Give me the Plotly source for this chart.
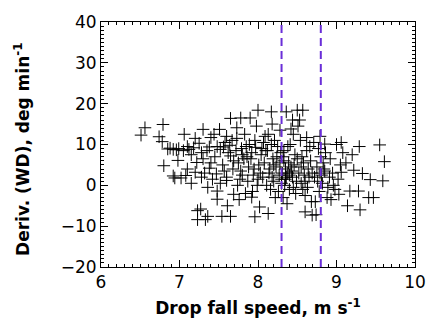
import plotly.graph_objects as go

pts = [
(6.51,12.3),(6.56,14.1),(6.74,11.9),(6.79,14.9),(6.78,10.7),(6.80,4.8),(6.85,8.9),(6.88,9.1),(6.94,1.8),
(6.92,8.8),(6.96,8.7),(6.99,9.0),(6.98,6.1),(6.92,2.3),(7.02,1.8),(7.05,8.5),(7.08,2.4),(7.10,9.5),(7.06,12.5),(7.10,4.0),
(7.12,8.8),(7.15,7.5),(7.18,9.2),(7.20,3.2),(7.22,5.6),(7.23,-6.2),(7.23,-8.4),(7.25,10.3),(7.28,2.0),(7.15,0.5),(7.28,8.0),(7.20,11.5),(7.30,6.5),(7.30,13.7),(7.27,-5.8),
(7.33,-8.4),(7.36,-7.6),(7.35,8.5),(7.38,4.2),(7.40,11.7),(7.42,1.5),(7.45,7.0),(7.32,3.0),(7.48,9.5),(7.36,-0.5),(7.44,12.5),(7.40,5.5),(7.47,2.8),(7.48,-1.4),(7.48,-3.4),(7.38,9.4),
(7.51,13.7),(7.52,8.8),(7.55,5.0),(7.58,10.5),(7.60,2.0),(7.61,-5.0),(7.54,-7.6),(7.65,-7.6),(7.65,7.2),(7.60,12.0),(7.68,4.0),(7.52,0.5),(7.64,9.8),(7.57,3.5),(7.65,16.4),(7.69,6.0),(7.69,-2.2),(7.60,1.2),(7.67,11.0),(7.56,9.4),(7.62,8.0),
(7.72,8.5),(7.73,14.1),(7.75,5.5),(7.78,16.5),(7.80,2.5),(7.85,9.5),(7.74,0.0),(7.88,4.5),(7.80,7.5),(7.84,-2.0),(7.73,11.5),(7.87,1.0),(7.90,16.5),(7.78,3.5),(7.82,6.5),(7.76,-3.5),(7.89,10.0),(7.79,9.0),(7.83,12.5),(7.86,7.0),(7.77,1.5),
(7.92,8.0),(7.95,4.0),(7.98,14.5),(8.00,1.5),(8.02,-5.3),(8.05,9.0),(7.93,-1.5),(8.08,5.5),(7.96,11.0),(8.00,18.4),(8.03,3.0),(7.92,-2.9),(7.91,6.5),(8.09,12.0),(7.99,0.0),(8.04,7.5),(7.94,2.5),(7.96,-7.7),(8.07,10.5),(8.06,2.0),(7.97,9.3),(8.01,5.0),(8.10,8.5),
(8.12,8.5),(8.15,4.0),(8.18,15.0),(8.20,1.0),(8.22,-3.0),(8.25,9.5),(8.13,12.5),(8.28,5.5),(8.16,-1.0),(8.17,18.0),(8.19,6.5),(8.27,2.5),(8.11,0.0),(8.21,11.0),(8.13,-6.9),(8.14,3.0),(8.29,8.0),(8.23,4.5),(8.17,10.0),(8.30,0.5),(8.28,13.5),(8.24,7.0),(8.18,2.0),(8.26,-1.5),(8.20,5.0),
(8.31,3.0),(8.33,6.0),(8.35,1.5),(8.38,9.5),(8.40,-1.0),(8.42,4.5),(8.45,12.5),(8.32,-3.0),(8.36,18.0),(8.44,2.0),(8.47,7.5),(8.34,0.0),(8.41,10.0),(8.48,-2.0),(8.39,5.5),(8.44,16.0),(8.43,3.5),(8.37,-4.5),(8.49,1.0),(8.33,8.5),(8.40,2.5),(8.45,-0.5),(8.35,4.0),(8.50,6.5),(8.42,13.8),(8.30,1.5),(8.38,3.0),(8.46,5.0),(8.32,7.0),(8.36,2.0),
(8.50,18.4),(8.52,3.0),(8.55,0.5),(8.58,5.5),(8.60,-2.5),(8.62,8.5),(8.65,2.0),(8.51,14.5),(8.68,-4.0),(8.54,11.0),(8.57,-1.0),(8.64,4.0),(8.56,7.0),(8.60,1.0),(8.66,9.5),(8.60,-6.5),(8.69,3.0),(8.53,16.0),(8.57,18.4),(8.62,11.7),(8.67,6.0),(8.59,2.5),(8.69,-7.3),(8.63,-0.5),(8.55,4.5),
(8.72,2.0),(8.75,4.5),(8.78,-1.5),(8.80,7.0),(8.82,0.5),(8.85,3.5),(8.71,10.5),(8.88,-3.0),(8.74,-7.2),(8.79,12.0),(8.83,5.5),(8.76,1.0),(8.86,8.0),(8.73,-4.0),(8.81,2.5),(8.89,-0.5),(8.77,9.0),(8.84,4.0),(8.85,10.1),(8.79,3.0),
(8.92,6.5),(8.95,3.0),(8.98,-1.0),(9.00,10.0),(9.02,1.5),(9.05,5.0),(8.93,-3.5),(9.06,10.5),(8.96,0.0),(9.06,3.2),(9.03,-2.2),(8.91,2.0),(9.08,8.0),
(9.14,-5.0),(9.17,-1.4),(9.22,3.7),(9.20,7.5),(9.28,-1.4),(9.30,-6.0),(9.29,9.5),(9.33,2.9),(9.12,5.5),
(9.41,-3.0),(9.47,-3.0),(9.43,1.4),(9.55,9.9),(9.59,1.1),(9.61,5.8),
]
fall_speed = [p[0] for p in pts]
deriv_wd = [p[1] for p in pts]
vlines = [8.3, 8.8]
y_title = "<b>Deriv. (WD), deg min<sup>-1</sup></b>"
x_title = "<b>Drop fall speed, m s<sup>-1</sup></b>"

fig = go.Figure()
fig.add_trace(go.Scatter(
    x=fall_speed, y=deriv_wd, mode="markers",
    marker=dict(symbol="cross-thin", size=9, line=dict(color="black", width=1), color="black"),
    showlegend=False))
for v in vlines:
    fig.add_vline(x=v, line=dict(color="#6a2ed8", width=2, dash="8px,5px"))

axis_common = dict(showgrid=False, zeroline=False, showline=True, linecolor="black", linewidth=1,
                   mirror="allticks", ticks="inside", ticklen=7, tickwidth=1, tickcolor="black",
                   tickfont=dict(family="DejaVu Sans", size=17, color="black"))
fig.update_xaxes(range=[6, 10], tickvals=[6, 7, 8, 9, 10],
                 minor=dict(dtick=0.1, ticks="inside", ticklen=3, tickcolor="black"),
                 title=dict(text=x_title,
                            font=dict(family="DejaVu Sans", size=17, color="black"), standoff=10),
                 **axis_common)
fig.update_yaxes(range=[-20, 40], tickvals=[-20, -10, 0, 10, 20, 30, 40],
                 minor=dict(dtick=1, ticks="inside", ticklen=3, tickcolor="black"),
                 **axis_common)
fig.add_annotation(text=y_title, textangle=-90, xref="paper", yref="paper",
                   x=-0.25, y=0.48, xanchor="center", yanchor="middle", showarrow=False,
                   font=dict(family="DejaVu Sans", size=17, color="black"))
fig.update_layout(width=438, height=336, margin=dict(l=101, r=16, t=14, b=69),
                  plot_bgcolor="white", paper_bgcolor="white")
fig.write_html("out.html")
